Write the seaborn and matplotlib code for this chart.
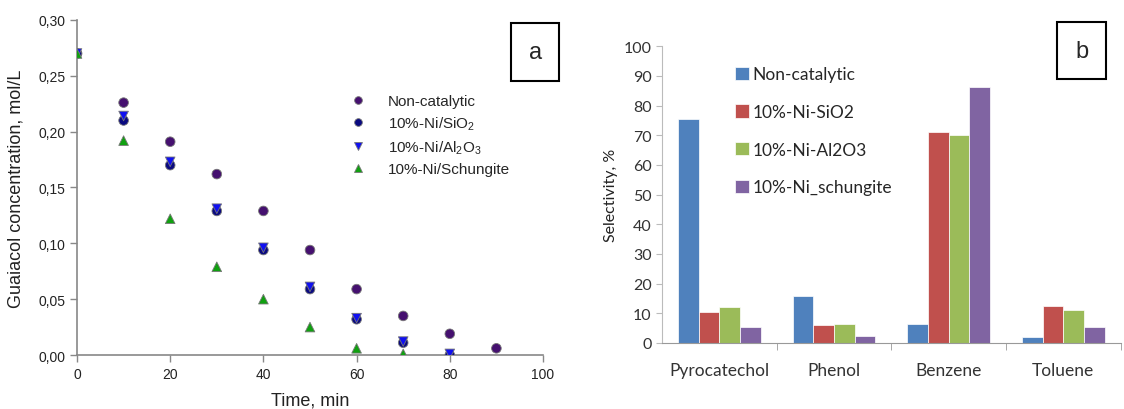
import pandas as pd
import matplotlib.pyplot as plt
import seaborn as sns
from matplotlib.ticker import FuncFormatter

# panel a: guaiacol concentration vs time
time_min = [0, 10, 20, 30, 40, 50, 60, 70, 80, 90]
non_catalytic = [0.270, 0.226, 0.191, 0.162, 0.129, 0.094, 0.059, 0.035, 0.019, 0.006]
ni_sio2 = [0.270, 0.210, 0.170, 0.129, 0.094, 0.059, 0.032, 0.011, 0.000]
ni_al2o3 = [0.270, 0.214, 0.173, 0.131, 0.096, 0.061, 0.033, 0.012, 0.001]
ni_schungite = [0.270, 0.192, 0.122, 0.079, 0.050, 0.025, 0.006, 0.001]

series_a = ['Non-catalytic', '10%-Ni/SiO$_2$', '10%-Ni/Al$_2$O$_3$', '10%-Ni/Schungite']

# panel b: selectivity
products = ['Pyrocatechol', 'Phenol', 'Benzene', 'Toluene']
sel_non_catalytic = [75.5, 15.8, 6.3, 2.1]
sel_sio2 = [10.3, 5.9, 71.2, 12.3]
sel_al2o3 = [12.1, 6.4, 70.2, 11.0]
sel_schungite = [5.3, 2.5, 86.4, 5.4]
series_b = ['Non-catalytic', '10%-Ni-SiO2', '10%-Ni-Al2O3', '10%-Ni_schungite']

rows = []
for name, vals in zip(series_a, [non_catalytic, ni_sio2, ni_al2o3, ni_schungite]):
    for t, c in zip(time_min, vals):
        rows.append({'time': t, 'conc': c, 'series': name})
df_a = pd.DataFrame(rows)

rows = []
for name, vals in zip(series_b, [sel_non_catalytic, sel_sio2, sel_al2o3, sel_schungite]):
    for p, v in zip(products, vals):
        rows.append({'product': p, 'sel': v, 'series': name})
df_b = pd.DataFrame(rows)

sns.set_style('white')
plt.rcParams['font.family'] = ['Liberation Sans', 'DejaVu Sans']
plt.rcParams['mathtext.fontset'] = 'custom'
plt.rcParams['mathtext.rm'] = 'Liberation Sans'
plt.rcParams['mathtext.it'] = 'Liberation Sans'

fig = plt.figure(figsize=(11.24, 4.10), dpi=100)
ax1 = fig.add_axes([0.0685, 0.1317, 0.4146, 0.8171])
ax2 = fig.add_axes([0.589, 0.161, 0.408, 0.724])

colors_a = ['#45106f', '#0a0a80', '#1010f0', '#10a010']
markers_a = ['o', 'o', 'v', '^']
sns.scatterplot(data=df_a, x='time', y='conc', hue='series', style='series',
                palette=dict(zip(series_a, colors_a)),
                markers=dict(zip(series_a, markers_a)),
                s=48, edgecolor='#777777', linewidth=0.6, ax=ax1, zorder=3)
ax1.set_xlim(0, 100)
ax1.set_ylim(0, 0.30)
ax1.set_xticks(range(0, 101, 20))
ax1.set_yticks([0, 0.05, 0.10, 0.15, 0.20, 0.25, 0.30])
ax1.yaxis.set_major_formatter(FuncFormatter(lambda v, p: f'{v:.2f}'.replace('.', ',')))
for s in ['top', 'right']:
    ax1.spines[s].set_visible(False)
for s in ['left', 'bottom']:
    ax1.spines[s].set_color('#888888')
    ax1.spines[s].set_linewidth(1.2)
ax1.tick_params(direction='out', length=5, width=1, color='#888888', labelsize=10, labelcolor='#222222',
                left=True, bottom=True)
ax1.set_xlabel('Time, min', fontsize=13, color='#222222', labelpad=8)
ax1.set_ylabel('Guaiacol concentration, mol/L', fontsize=13, color='#222222', labelpad=10)
ax1.legend(loc='upper left', bbox_to_anchor=(0.54, 0.82), frameon=False, fontsize=11,
           handletextpad=1.0, labelspacing=0.42, markerscale=0.8)
ax1.text(0.983, 0.905, 'a', transform=ax1.transAxes, fontsize=17, ha='center', va='center',
         bbox=dict(boxstyle='square,pad=0.75', facecolor='white', edgecolor='black', linewidth=1.5))

colors_b = ['#4f81bd', '#c0504d', '#9bbb59', '#8064a2']
sns.barplot(data=df_b, x='product', y='sel', hue='series', palette=colors_b,
            width=0.72, gap=0, ax=ax2, edgecolor='white', linewidth=0.5, saturation=1)
ax2.set_xlim(-0.5, 3.5)
ax2.set_ylim(0, 100)
ax2.set_yticks(range(0, 101, 10))
ax2.set_xticks([0, 1, 2, 3])
ax2.set_xticks([0.5, 1.5, 2.5, 3.5], minor=True)
ax2.set_xlabel('')
ax2.set_ylabel('Selectivity, %', fontsize=11.5, color='#222222', family=['Lato', 'DejaVu Sans'])
for s in ['top', 'right']:
    ax2.spines[s].set_visible(False)
ax2.spines['left'].set_color('#bbbbbb')
ax2.spines['bottom'].set_color('#999999')
ax2.tick_params(axis='x', which='major', length=0, pad=14)
ax2.tick_params(axis='x', which='minor', length=5, color='#999999', bottom=True)
ax2.tick_params(axis='y', length=4, color='#bbbbbb', left=True)
for lab in ax2.get_xticklabels():
    lab.set_family(['Lato', 'DejaVu Sans'])
    lab.set_fontsize(12.5)
    lab.set_color('#333333')
for lab in ax2.get_yticklabels():
    lab.set_family(['Lato', 'DejaVu Sans'])
    lab.set_fontsize(11.5)
    lab.set_color('#333333')
leg = ax2.legend(loc='upper left', bbox_to_anchor=(0.125, 0.985), frameon=False, fontsize=12.5,
                 handlelength=0.8, handleheight=0.8, handletextpad=0.2, labelspacing=1.25)
for t in leg.get_texts():
    t.set_family(['Lato', 'DejaVu Sans'])
ax2.text(0.915, 0.985, 'b', transform=ax2.transAxes, fontsize=17, ha='center', va='center',
         bbox=dict(boxstyle='square,pad=0.75', facecolor='white', edgecolor='black', linewidth=1.5))

fig.savefig('out.png', dpi=100)
